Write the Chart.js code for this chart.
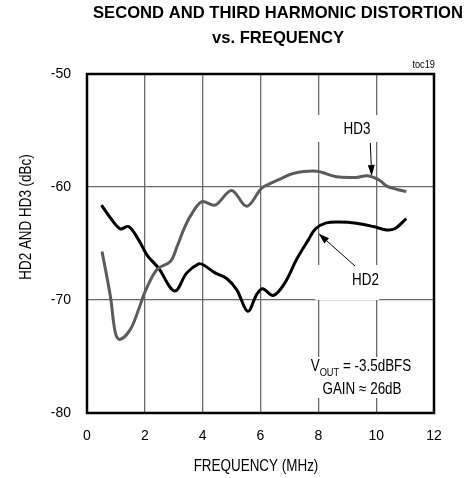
<!DOCTYPE html>
<html>
<head>
<meta charset="utf-8">
<script src="https://cdn.jsdelivr.net/npm/chart.js@4.4.0/dist/chart.umd.min.js"></script>
<style>
html,body{margin:0;padding:0;background:#fff;}
#wrap{width:473px;height:478px;position:relative;}
</style>
</head>
<body>
<div id="wrap"><canvas id="c" width="473" height="478"></canvas></div>
<script>
// Data
const hd2Freq = [0.5, 0.8, 1.15, 1.44, 1.79, 2.07, 2.48, 3.03, 3.45, 3.86, 4.03, 4.43, 4.83, 5.18, 5.56, 5.87, 6.07, 6.44, 6.84, 7.25, 7.65, 7.9, 8.25, 8.7, 9.32, 9.9, 10.35, 10.64, 11.04];
const hd2Values = [-61.6, -62.7, -63.7, -63.5, -64.7, -66.0, -67.2, -69.2, -67.6, -66.8, -66.9, -67.6, -68.1, -69.1, -71.0, -69.5, -69.0, -69.6, -68.5, -66.4, -64.7, -63.7, -63.2, -63.1, -63.2, -63.5, -63.8, -63.7, -62.8];
const hd3Freq = [0.52, 0.81, 0.98, 1.13, 1.5, 1.79, 2.02, 2.42, 2.88, 3.11, 3.34, 3.57, 3.97, 4.43, 5.0, 5.52, 6.04, 6.33, 6.67, 7.13, 7.94, 8.63, 9.32, 9.7, 10.12, 10.35, 10.7, 11.04];
const hd3Values = [-65.7, -69.7, -72.9, -73.5, -72.6, -70.8, -69.2, -67.3, -66.6, -65.3, -63.8, -62.6, -61.3, -61.6, -60.3, -61.7, -60.1, -59.7, -59.3, -58.8, -58.6, -59.1, -59.15, -59.0, -59.4, -59.9, -60.2, -60.4];
const xTicks = [0, 2, 4, 6, 8, 10, 12];
const yTicks = [-80, -70, -60, -50];
const titleLines = ['SECOND AND THIRD HARMONIC DISTORTION', 'vs. FREQUENCY'];
const xTitle = 'FREQUENCY (MHz)';
const yTitle = 'HD2 AND HD3 (dBc)';

const FONT = "'Liberation Sans', Arial, sans-serif";
const NARROW = 0.84;

function pts(xs, ys){ return xs.map((x,i)=>({x:x, y:ys[i]})); }

// draw horizontally condensed text (mimics a narrow typeface)
function ntext(ctx, txt, x, y, font, align, sx){
  sx = sx || NARROW;
  ctx.save();
  ctx.font = font;
  ctx.textAlign = align || 'center';
  ctx.textBaseline = 'middle';
  ctx.translate(x, y);
  ctx.scale(sx, 1);
  ctx.fillText(txt, 0, 0);
  ctx.restore();
}
function nwidth(ctx, txt, font, sx){
  ctx.save(); ctx.font = font; const w = ctx.measureText(txt).width; ctx.restore();
  return w * (sx || NARROW);
}

function arrow(ctx, x1, y1, x2, y2){
  ctx.save();
  ctx.strokeStyle = '#000'; ctx.fillStyle = '#000'; ctx.lineWidth = 1;
  const a = Math.atan2(y2-y1, x2-x1);
  const hl = 11, hw = 3.5;
  const bx = x2 - hl*Math.cos(a), by = y2 - hl*Math.sin(a);
  ctx.beginPath(); ctx.moveTo(x1,y1); ctx.lineTo(bx,by); ctx.stroke();
  ctx.beginPath();
  ctx.moveTo(x2,y2);
  ctx.lineTo(bx + hw*Math.sin(a), by - hw*Math.cos(a));
  ctx.lineTo(bx - hw*Math.sin(a), by + hw*Math.cos(a));
  ctx.closePath(); ctx.fill();
  ctx.restore();
}

const annot = {
  id: 'annot',
  beforeDatasetsDraw(chart){
    const ctx = chart.ctx;
    const xs = chart.scales.x;
    ctx.save();
    ctx.fillStyle = '#fff';
    const x8 = xs.getPixelForValue(8), x10 = xs.getPixelForValue(10);
    ctx.fillRect(x8-3, 115, x10-x8+6, 27);
    ctx.fillRect(x8-3, 265, x10-x8+6, 35);
    ctx.fillRect(x8-3, 357, x10-x8+6, 41);
    ctx.fillStyle = '#000';
    const f16 = '16px ' + FONT, f11 = '11px ' + FONT;
    ntext(ctx, 'HD3', 357, 129.5, f16);
    ntext(ctx, 'HD2', 365.5, 281, f16);
    const main = 'V', sub = 'OUT', rest = ' = -3.5dBFS';
    const wV = nwidth(ctx, main, f16), wS = nwidth(ctx, sub, f11), wR = nwidth(ctx, rest, f16);
    let sx = 361 - (wV+wS+wR)/2;
    ntext(ctx, main, sx, 367, f16, 'left');
    ntext(ctx, sub, sx+wV, 372.5, f11, 'left');
    ntext(ctx, rest, sx+wV+wS, 367, f16, 'left');
    ntext(ctx, 'GAIN \u2248 26dB', 362, 390, f16);
    ctx.restore();
    arrow(ctx, 370.3, 143, 371.7, 176);
    arrow(ctx, 355, 266, 318.5, 233.5);
  },
  afterDraw(chart){
    const ctx = chart.ctx, a = chart.chartArea;
    ctx.save();
    ctx.strokeStyle = '#000'; ctx.lineWidth = 2.5;
    ctx.strokeRect(a.left, a.top, a.right-a.left, a.bottom-a.top);
    ctx.fillStyle = '#000';
    const tf = 'bold 17px ' + FONT;
    const tsx = 370 / (nwidth(ctx, titleLines[0], tf, 1));
    ntext(ctx, titleLines[0], 278, 13, tf, 'center', tsx);
    ntext(ctx, titleLines[1], 278, 38, tf, 'center', tsx);
    const af = '16px ' + FONT;
    ntext(ctx, xTitle, 256, 467, af);
    ctx.save();
    ctx.translate(27, 217); ctx.rotate(-Math.PI/2);
    ntext(ctx, yTitle, 0, 0, af);
    ctx.restore();
    ntext(ctx, 'toc19', 435, 65, '11px ' + FONT, 'right');
    ctx.restore();
  }
};

new Chart(document.getElementById('c'), {
  type: 'line',
  data: {
    datasets: [
      { label: 'HD3', data: pts(hd3Freq, hd3Values), borderColor: '#5c5c5c', borderWidth: 3, pointRadius: 0, tension: 0.35, fill: false },
      { label: 'HD2', data: pts(hd2Freq, hd2Values), borderColor: '#000000', borderWidth: 3, pointRadius: 0, tension: 0.35, fill: false }
    ]
  },
  options: {
    responsive: false,
    animation: false,
    events: [],
    layout: { padding: { left: 0, right: 39, top: 74, bottom: 0 } },
    plugins: { legend: { display: false }, tooltip: { enabled: false }, title: { display: false } },
    scales: {
      x: {
        type: 'linear', min: 0, max: 12,
        afterBuildTicks(s){ s.ticks = xTicks.map(v=>({value:v})); },
        afterFit(s){ s.height = 65; },
        border: { display: false },
        grid: { drawTicks: false, lineWidth: 1.3, color: (c)=> (c.tick && (c.tick.value===0 || c.tick.value===12)) ? 'rgba(0,0,0,0)' : '#6b6b6b' },
        ticks: { padding: 15, color: '#000', font: { family: FONT, size: 14 }, maxRotation: 0 }
      },
      y: {
        type: 'linear', min: -80, max: -50,
        afterBuildTicks(s){ s.ticks = yTicks.map(v=>({value:v})); },
        afterFit(s){ s.width = 87; },
        border: { display: false },
        grid: { drawTicks: false, lineWidth: 1.3, color: (c)=> (c.tick && (c.tick.value===-80 || c.tick.value===-50)) ? 'rgba(0,0,0,0)' : '#6b6b6b' },
        ticks: { padding: 16, color: '#000', font: { family: FONT, size: 14 } }
      }
    }
  },
  plugins: [annot]
});
</script>
</body>
</html>
